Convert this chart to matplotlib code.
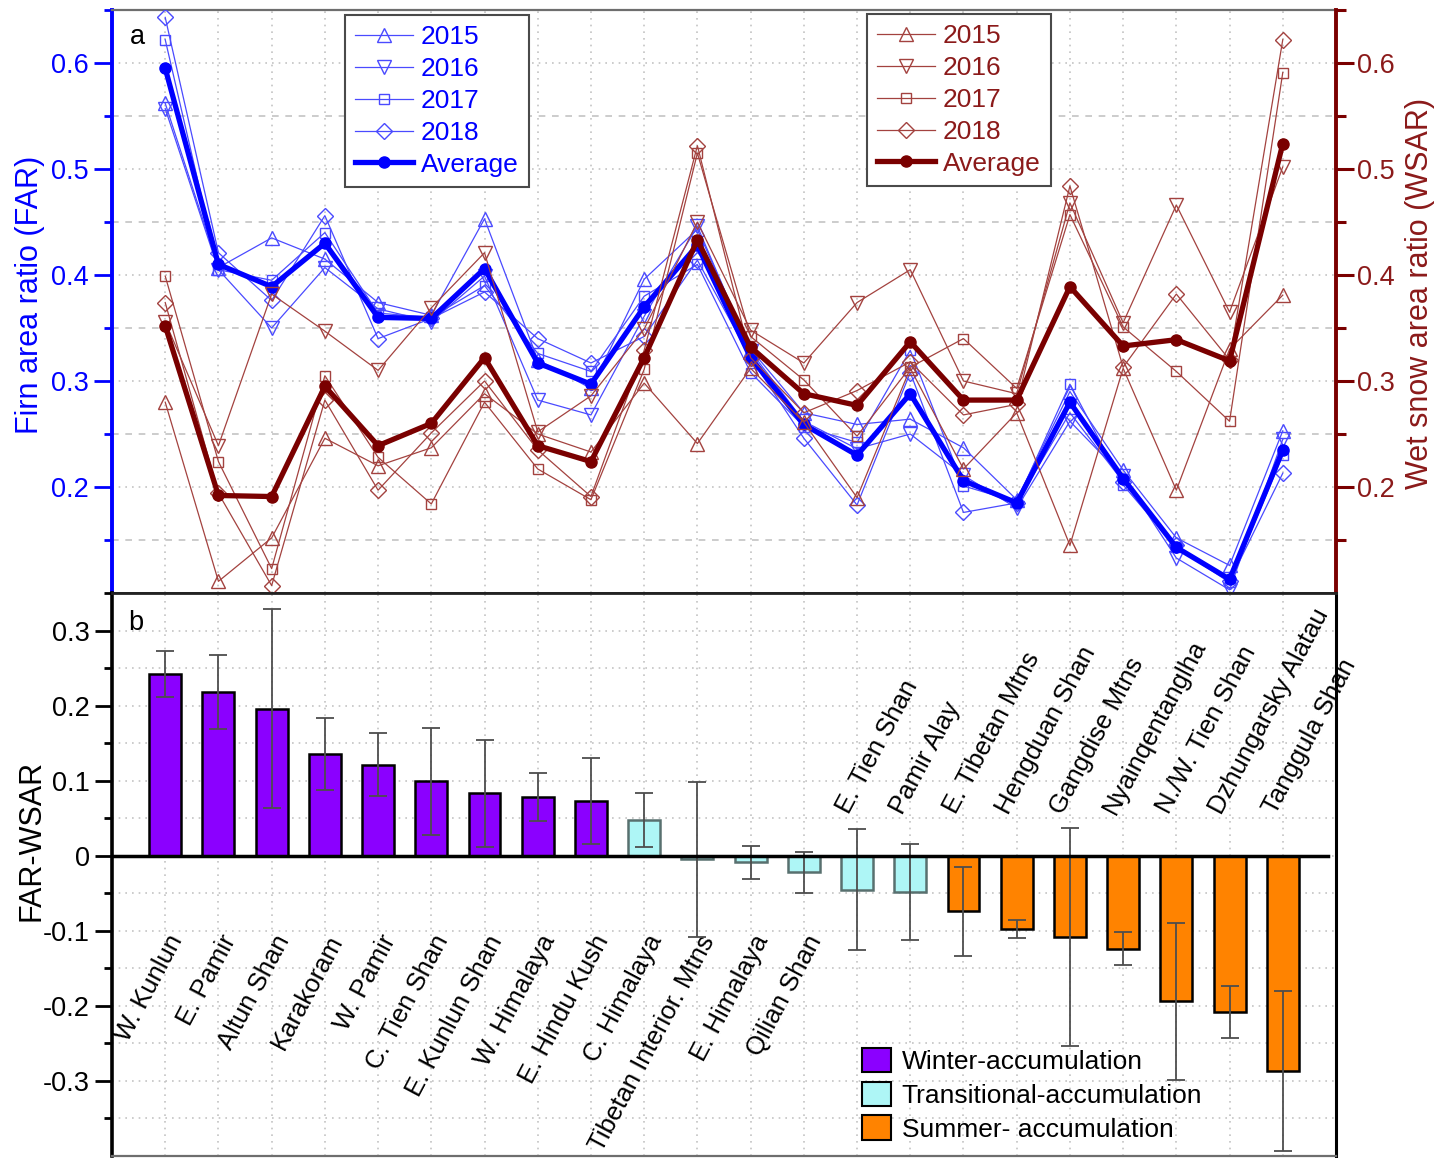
import matplotlib
matplotlib.use("Agg")
import matplotlib.pyplot as plt
from matplotlib.patches import Patch
import numpy as np

plt.rcParams["font.family"] = ["Liberation Sans", "DejaVu Sans"]

# ---------------------------------------------------------------- data
regions = ["W. Kunlun", "E. Pamir", "Altun Shan", "Karakoram", "W. Pamir",
           "C. Tien Shan", "E. Kunlun Shan", "W. Himalaya", "E. Hindu Kush",
           "C. Himalaya", "Tibetan Interior. Mtns", "E. Himalaya", "Qilian Shan",
           "E. Tien Shan", "Pamir Alay", "E. Tibetan Mtns", "Hengduan Shan",
           "Gangdise Mtns", "Nyainqentanglha", "N./W. Tien Shan",
           "Dzhungarsky Alatau", "Tanggula Shan"]
years = ["2015", "2016", "2017", "2018"]

# Firn area ratio per year
far_2015 = [0.562, 0.407, 0.435, 0.415, 0.374, 0.362, 0.453, 0.320, 0.293, 0.396, 0.443,
            0.330, 0.270, 0.259, 0.264, 0.237, 0.188, 0.290, 0.216, 0.152, 0.126, 0.253]
far_2016 = [0.557, 0.405, 0.350, 0.407, 0.368, 0.356, 0.399, 0.282, 0.268, 0.361, 0.446,
            0.328, 0.262, 0.236, 0.250, 0.211, 0.180, 0.262, 0.210, 0.133, 0.103, 0.245]
far_2017 = [0.622, 0.405, 0.395, 0.440, 0.364, 0.360, 0.390, 0.326, 0.309, 0.380, 0.410,
            0.308, 0.257, 0.242, 0.329, 0.201, 0.186, 0.297, 0.202, 0.143, 0.110, 0.230]
far_2018 = [0.643, 0.421, 0.376, 0.456, 0.340, 0.359, 0.384, 0.340, 0.317, 0.342, 0.414,
            0.322, 0.246, 0.183, 0.308, 0.176, 0.185, 0.270, 0.205, 0.145, 0.111, 0.213]
far_avg = [0.595, 0.410, 0.389, 0.430, 0.360, 0.359, 0.406, 0.317, 0.297, 0.370, 0.428,
           0.322, 0.259, 0.230, 0.288, 0.206, 0.185, 0.280, 0.208, 0.143, 0.113, 0.235]

# Wet snow area ratio per year
wsar_2015 = [0.280, 0.111, 0.152, 0.246, 0.220, 0.237, 0.288, 0.250, 0.233, 0.298, 0.241,
             0.312, 0.261, 0.190, 0.312, 0.217, 0.270, 0.145, 0.312, 0.197, 0.330, 0.381]
wsar_2016 = [0.356, 0.239, 0.382, 0.347, 0.310, 0.369, 0.421, 0.252, 0.286, 0.349, 0.450,
             0.348, 0.317, 0.374, 0.405, 0.300, 0.288, 0.468, 0.355, 0.466, 0.365, 0.502]
wsar_2017 = [0.399, 0.224, 0.123, 0.305, 0.228, 0.184, 0.280, 0.217, 0.188, 0.311, 0.515,
             0.342, 0.301, 0.248, 0.313, 0.340, 0.293, 0.457, 0.351, 0.309, 0.262, 0.591]
wsar_2018 = [0.374, 0.194, 0.107, 0.282, 0.197, 0.251, 0.300, 0.235, 0.191, 0.329, 0.522,
             0.322, 0.270, 0.291, 0.318, 0.268, 0.278, 0.484, 0.313, 0.382, 0.320, 0.622]
wsar_avg = [0.352, 0.192, 0.191, 0.295, 0.239, 0.260, 0.322, 0.239, 0.224, 0.322, 0.433,
            0.332, 0.288, 0.277, 0.337, 0.282, 0.282, 0.389, 0.333, 0.339, 0.319, 0.524]

# FAR - WSAR with its spread
diff_mean = [0.242, 0.218, 0.196, 0.136, 0.121, 0.099, 0.083, 0.078, 0.073, 0.048, -0.005,
             -0.009, -0.022, -0.045, -0.048, -0.074, -0.098, -0.108, -0.124, -0.194,
             -0.208, -0.287]
diff_err = [0.031, 0.049, 0.133, 0.048, 0.042, 0.071, 0.071, 0.032, 0.057, 0.036, 0.103,
            0.022, 0.027, 0.081, 0.064, 0.059, 0.012, 0.145, 0.022, 0.105, 0.035, 0.107]
regime = ["winter"] * 9 + ["transitional"] * 6 + ["summer"] * 7
regime_names = {"winter": "Winter-accumulation",
                "transitional": "Transitional-accumulation",
                "summer": "Summer- accumulation"}

ratio_ticks = [0.2, 0.3, 0.4, 0.5, 0.6]
diff_ticks = [-0.3, -0.2, -0.1, 0.0, 0.1, 0.2, 0.3]

# ---------------------------------------------------------------- style
BLUE = "#0000ff"
BLUE_THIN = "#4a4aff"
RED = "#7a0000"
RED_THIN = "#a3423f"
RED_TXT = "#8b1a1a"
regime_face = {"winter": "#8b00ff", "transitional": "#aef6f6", "summer": "#ff8300"}
regime_edge = {"winter": "black", "transitional": "#58706f", "summer": "black"}
year_markers = ["^", "v", "s", "D"]
year_ms = [10.5, 10.5, 7.5, 8]
GRID = "#c4c4c4"
FS = 19.5

W_PX, H_PX = 1435, 1158
fig = plt.figure(figsize=(W_PX / 100, H_PX / 100), dpi=100)
left, width = 112 / W_PX, 1224 / W_PX
ax1 = fig.add_axes([left, (H_PX - 593) / H_PX, width, 583 / H_PX])
ax2 = ax1.twinx()
axb = fig.add_axes([left, 2 / H_PX, width, 563 / H_PX])

x = np.arange(len(regions))

# ---------------------------------------------------------------- panel a
for ax in (ax1, ax2):
    ax.set_xlim(-1, len(regions))
    ax.set_ylim(0.1, 0.65)

ax1.set_xticks(x)
ax1.tick_params(axis="x", length=0, labelbottom=False)
ax1.set_yticks(ratio_ticks)
ax1.set_yticks(np.arange(0.1, 0.66, 0.1) + 0.05, minor=True)
ax1.set_yticklabels([f"{v:g}" for v in ratio_ticks])
ax1.tick_params(axis="y", which="major", direction="out", length=13, width=2,
                color=BLUE, labelcolor=BLUE, labelsize=FS, pad=4)
ax1.tick_params(axis="y", which="minor", direction="out", length=6, width=2, color=BLUE)
ax1.grid(axis="x", which="major", color=GRID, linestyle=(0, (1, 3)), linewidth=1.2)
ax1.grid(axis="y", which="major", color=GRID, linestyle=(0, (1, 3)), linewidth=1.2)
ax1.grid(axis="y", which="minor", color=GRID, linestyle=(0, (4, 4)), linewidth=1.2)
ax1.set_axisbelow(True)

ax1.spines["left"].set_color(BLUE)
ax1.spines["left"].set_linewidth(2.8)
ax1.spines["right"].set_visible(False)
ax1.spines["top"].set_color("#6e6e6e")
ax1.spines["top"].set_linewidth(1.6)
ax1.spines["bottom"].set_color("#222222")
ax1.spines["bottom"].set_linewidth(2)

ax2.set_yticks(ratio_ticks)
ax2.set_yticks(np.arange(0.1, 0.66, 0.1) + 0.05, minor=True)
ax2.set_yticklabels([f"{v:g}" for v in ratio_ticks])
ax2.tick_params(axis="y", which="major", direction="out", length=13, width=2.2,
                color=RED, labelcolor=RED_TXT, labelsize=FS, pad=2)
ax2.tick_params(axis="y", which="minor", direction="out", length=7, width=2.2, color=RED)
ax2.spines["right"].set_color(RED)
ax2.spines["right"].set_linewidth(2.8)
for s in ("left", "top", "bottom"):
    ax2.spines[s].set_visible(False)

far_years = [far_2015, far_2016, far_2017, far_2018]
wsar_years = [wsar_2015, wsar_2016, wsar_2017, wsar_2018]

blue_handles, red_handles = [], []
for vals, m, ms in zip(far_years, year_markers, year_ms):
    h, = ax1.plot(x, vals, color=BLUE_THIN, lw=0.9, marker=m, ms=ms,
                  mfc="none", mec=BLUE_THIN, mew=1.0, zorder=3)
    blue_handles.append(h)
h, = ax1.plot(x, far_avg, color=BLUE, lw=3.8, marker="o", ms=8, mfc=BLUE,
              mec=BLUE, zorder=4)
blue_handles.append(h)

for vals, m, ms in zip(wsar_years, year_markers, year_ms):
    h, = ax2.plot(x, vals, color=RED_THIN, lw=0.9, marker=m, ms=ms,
                  mfc="none", mec=RED_THIN, mew=1.0, zorder=3)
    red_handles.append(h)
h, = ax2.plot(x, wsar_avg, color=RED, lw=3.8, marker="o", ms=8, mfc=RED,
              mec=RED, zorder=4)
red_handles.append(h)

legend_kw = dict(loc="upper left", frameon=True, fancybox=False, framealpha=1,
                 edgecolor="#4a4a4a", fontsize=FS - 0.5, handlelength=2.2,
                 handletextpad=0.3, labelspacing=0.3, borderpad=0.38,
                 borderaxespad=0, bbox_transform=ax1.transAxes)
leg_b = ax2.legend(blue_handles, years + ["Average"],
                   bbox_to_anchor=((345 - 112) / 1224, (593 - 15) / 583), **legend_kw)
leg_b.get_frame().set_linewidth(1.5)
for t in leg_b.get_texts():
    t.set_color(BLUE)
ax2.add_artist(leg_b)
leg_r = ax2.legend(red_handles, years + ["Average"],
                   bbox_to_anchor=((867 - 112) / 1224, (593 - 14) / 583), **legend_kw)
leg_r.get_frame().set_linewidth(1.5)
for t in leg_r.get_texts():
    t.set_color(RED_TXT)

ax1.text(0.0204, 0.954, "a", transform=ax1.transAxes, ha="center", va="center",
         fontsize=FS)

fig.text(30 / W_PX, 1 - 295 / H_PX, "Firn area ratio (FAR)", rotation=90,
         ha="center", va="center", color=BLUE, fontsize=22)
fig.text(1420 / W_PX, 1 - 293 / H_PX, "Wet snow area ratio (WSAR)", rotation=90,
         ha="center", va="center", color=RED_TXT, fontsize=22)

# ---------------------------------------------------------------- panel b
axb.set_xlim(-1, len(regions))
axb.set_ylim(-0.4, 0.35)
axb.set_xticks(x)
axb.tick_params(axis="x", length=0, labelbottom=False)
axb.set_yticks(diff_ticks)
axb.set_yticks(np.arange(-0.35, 0.36, 0.1), minor=True)
axb.set_yticklabels([f"{v:g}" for v in diff_ticks])
axb.tick_params(axis="y", which="major", direction="out", length=12, width=2,
                labelsize=FS, pad=4)
axb.tick_params(axis="y", which="minor", direction="out", length=6, width=2)
axb.grid(axis="x", color=GRID, linestyle=(0, (1, 3)), linewidth=1.2)
axb.grid(axis="y", which="both", color=GRID, linestyle=(0, (1, 3)), linewidth=1.2)
axb.set_axisbelow(True)
for s, c, lw in (("left", "black", 2.6), ("right", "black", 2.2),
                 ("top", "#222222", 2), ("bottom", "#6e6e6e", 1.6)):
    axb.spines[s].set_color(c)
    axb.spines[s].set_linewidth(lw)

faces = [regime_face[r] for r in regime]
edges = [regime_edge[r] for r in regime]
axb.bar(x, diff_mean, width=0.6, color=faces, edgecolor=edges, linewidth=1.8, zorder=3)
axb.errorbar(x, diff_mean, yerr=diff_err, fmt="none", ecolor="#4d4d4d",
             elinewidth=1.3, capsize=6.5, capthick=1.3, zorder=4)
axb.plot([-1, len(regions) - 0.15], [0, 0], color="black", lw=2.5, zorder=5)

first_label_above = 13
LABEL_ROT = 62
LABEL_FS = 18.5
for i, name in enumerate(regions):
    if i < first_label_above:
        axb.text(i + 0.22, -0.108, name, rotation=LABEL_ROT, rotation_mode="anchor",
                 ha="right", va="center", fontsize=LABEL_FS)
    else:
        axb.text(i - 0.26, 0.058, name, rotation=LABEL_ROT, rotation_mode="anchor",
                 ha="left", va="center", fontsize=LABEL_FS)

axb.text(0.0196, 0.946, "b", transform=axb.transAxes, ha="center", va="center",
         fontsize=FS)
fig.text(32 / W_PX, 1 - 840 / H_PX, "FAR-WSAR", rotation=90, ha="center",
         va="center", fontsize=22)

reg_handles = [Patch(facecolor=regime_face[k], edgecolor="black", linewidth=1.5)
               for k in ("winter", "transitional", "summer")]
axb.legend(reg_handles, [regime_names[k] for k in ("winter", "transitional", "summer")],
           loc="upper left", bbox_to_anchor=((862 - 112) / 1224, 1 - (1048 - 593) / 563),
           frameon=False, fontsize=FS - 0.5, handlelength=1.1, handleheight=1.05,
           handletextpad=0.4, labelspacing=0.28, borderpad=0, borderaxespad=0)

fig.savefig("out.png", dpi=100)
